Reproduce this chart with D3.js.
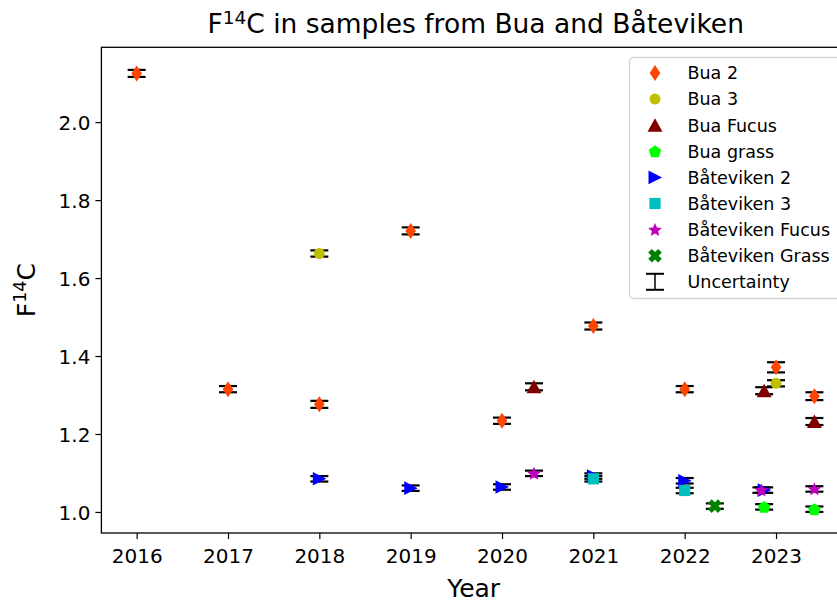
<!DOCTYPE html>
<html>
<head>
<meta charset="utf-8">
<script src="https://cdn.jsdelivr.net/npm/d3@7"></script>
<style>
  html, body { margin: 0; padding: 0; background: #ffffff; }
  svg text { font-family: "DejaVu Sans", sans-serif; }
</style>
</head>
<body>
<svg id="chart" width="837" height="604"></svg>
<script>
// series
const seriesNames = ["Bua 2", "Bua 3", "Bua Fucus", "Bua grass", "Båteviken 2", "Båteviken 3", "Båteviken Fucus", "Båteviken Grass"];

const bua2Years = [2016, 2017, 2018, 2019, 2020, 2021, 2022, 2023, 2023.42];
const bua2Values = [2.125, 1.315, 1.276, 1.721, 1.234, 1.477, 1.315, 1.371, 1.297];
const bua2Errors = [0.009, 0.008, 0.009, 0.009, 0.008, 0.009, 0.008, 0.013, 0.010];

const bua3Years = [2018, 2023];
const bua3Values = [1.663, 1.330];
const bua3Errors = [0.008, 0.008];

const buaFucusYears = [2020.35, 2022.87, 2023.42];
const buaFucusValues = [1.321, 1.311, 1.232];
const buaFucusErrors = [0.009, 0.009, 0.009];

const buaGrassYears = [2022.87, 2023.42];
const buaGrassValues = [1.013, 1.007];
const buaGrassErrors = [0.007, 0.007];

const bat2Years = [2018, 2019, 2020, 2021, 2022, 2022.87];
const bat2Values = [1.085, 1.061, 1.064, 1.092, 1.080, 1.056];
const bat2Errors = [0.007, 0.007, 0.007, 0.007, 0.007, 0.007];

const bat3Years = [2021, 2022];
const bat3Values = [1.085, 1.055];
const bat3Errors = [0.007, 0.007];

const batFucusYears = [2020.35, 2022.84, 2023.42];
const batFucusValues = [1.099, 1.056, 1.059];
const batFucusErrors = [0.007, 0.007, 0.007];

const batGrassYears = [2022.33];
const batGrassValues = [1.015];
const batGrassErrors = [0.007];

const xTicks = [2016, 2017, 2018, 2019, 2020, 2021, 2022, 2023];
const yTicks = [1.0, 1.2, 1.4, 1.6, 1.8, 2.0];

const seriesYears = [bua2Years, bua3Years, buaFucusYears, buaGrassYears, bat2Years, bat3Years, batFucusYears, batGrassYears];
const seriesValues = [bua2Values, bua3Values, buaFucusValues, buaGrassValues, bat2Values, bat3Values, batFucusValues, batGrassValues];
const seriesErrors = [bua2Errors, bua3Errors, buaFucusErrors, buaGrassErrors, bat2Errors, bat3Errors, batFucusErrors, batGrassErrors];
const seriesColors = ["#ff4500", "#bfbf00", "#800000", "#00ff00", "#0000ff", "#00bfbf", "#bf00bf", "#008000"];
const seriesShapes = ["thinDiamond", "circle", "triangleUp", "pentagon", "triangleRight", "square", "star", "xFilled"];

const W = 837, H = 604;
const plot = { left: 101.4, right: 846, top: 47.3, bottom: 533 };

const svg = d3.select("#chart");
svg.append("rect").attr("width", W).attr("height", H).attr("fill", "#ffffff");

const x = d3.scaleLinear().domain([2015.614, 2023.766]).range([plot.left, plot.right]);
const y = d3.scaleLinear().domain([0.946, 2.192]).range([plot.bottom, plot.top]);

function polygon(points) {
  return "M" + points.map(function(p) { return p[0].toFixed(2) + "," + p[1].toFixed(2); }).join("L") + "Z";
}

function markerPath(shape) {
  if (shape === "thinDiamond") return polygon([[0, -8], [5.3, 0], [0, 8], [-5.3, 0]]);
  if (shape === "circle") return d3.symbol(d3.symbolCircle, Math.PI * 5.5 * 5.5)();
  if (shape === "triangleUp") return polygon([[0, -7], [7.5, 6.5], [-7.5, 6.5]]);
  if (shape === "triangleRight") return polygon([[-6.5, -6.8], [7, 0], [-6.5, 6.8]]);
  if (shape === "square") return polygon([[-5.6, -5.6], [5.6, -5.6], [5.6, 5.6], [-5.6, 5.6]]);
  if (shape === "pentagon") {
    const pts = d3.range(5).map(function(i) {
      const a = -Math.PI / 2 + i * 2 * Math.PI / 5;
      return [6.6 * Math.cos(a), 6.6 * Math.sin(a) + 0.6];
    });
    return polygon(pts);
  }
  if (shape === "star") {
    const pts = d3.range(10).map(function(i) {
      const r = i % 2 === 0 ? 7.2 : 3.3;
      const a = -Math.PI / 2 + i * Math.PI / 5;
      return [r * Math.cos(a), r * Math.sin(a) + 0.6];
    });
    return polygon(pts);
  }
  if (shape === "xFilled") {
    const a = 7, w = 2.6;
    const base = [[-w, -a], [w, -a], [w, -w], [a, -w], [a, w], [w, w], [w, a], [-w, a], [-w, w], [-a, w], [-a, -w], [-w, -w]];
    const c = Math.SQRT1_2;
    return polygon(base.map(function(p) { return [c * (p[0] - p[1]), c * (p[0] + p[1])]; }));
  }
  return "";
}

// axes
const xAxis = svg.append("g")
  .attr("transform", "translate(0," + plot.bottom + ")")
  .call(d3.axisBottom(x).tickValues(xTicks).tickFormat(d3.format("d")).tickSize(6).tickSizeOuter(0));
const yAxis = svg.append("g")
  .attr("transform", "translate(" + plot.left + ",0)")
  .call(d3.axisLeft(y).tickValues(yTicks).tickFormat(d3.format(".1f")).tickSize(6).tickSizeOuter(0));

[xAxis, yAxis].forEach(function(g) {
  g.select(".domain").remove();
  g.selectAll(".tick line").attr("stroke", "#000").attr("stroke-width", 1.2);
  g.selectAll(".tick text").attr("fill", "#000").attr("font-size", 20).attr("font-family", "DejaVu Sans");
});
xAxis.selectAll(".tick text").attr("dy", "1.05em");
yAxis.selectAll(".tick text").attr("x", -11).attr("dy", "0.36em");

// error caps (all under the markers, the stems stay hidden)
const capHalf = 9;
const caps = svg.append("g").attr("stroke", "#000").attr("stroke-width", 2.2);
seriesNames.forEach(function(name, si) {
  seriesYears[si].forEach(function(yr, i) {
    const v = seriesValues[si][i], e = seriesErrors[si][i];
    [v - e, v + e].forEach(function(cv) {
      caps.append("line")
        .attr("x1", x(yr) - capHalf).attr("x2", x(yr) + capHalf)
        .attr("y1", y(cv)).attr("y2", y(cv));
    });
  });
});

// markers
seriesNames.forEach(function(name, si) {
  const pts = seriesYears[si].map(function(yr, i) { return { yr: yr, v: seriesValues[si][i] }; });
  svg.append("g").selectAll("path").data(pts).join("path")
    .attr("transform", function(d) { return "translate(" + x(d.yr) + "," + y(d.v) + ")"; })
    .attr("d", markerPath(seriesShapes[si]))
    .attr("fill", seriesColors[si]);
});

// frame
svg.append("rect")
  .attr("x", plot.left).attr("y", plot.top)
  .attr("width", plot.right - plot.left).attr("height", plot.bottom - plot.top)
  .attr("fill", "none").attr("stroke", "#000").attr("stroke-width", 1.3);

// legend
const legendX = 629.5, legendY = 57.5, legendStep = 26.1;
const legend = svg.append("g");
legend.append("rect")
  .attr("x", legendX).attr("y", legendY)
  .attr("width", 240).attr("height", 241)
  .attr("rx", 4)
  .attr("fill", "#ffffff").attr("fill-opacity", 0.8)
  .attr("stroke", "#d6d6d6").attr("stroke-width", 1.3);

const legendNames = seriesNames.concat(["Uncertainty"]);
legendNames.forEach(function(name, i) {
  const cy = legendY + 15.5 + i * legendStep;
  if (i < seriesNames.length) {
    legend.append("path")
      .attr("transform", "translate(655," + cy + ")")
      .attr("d", markerPath(seriesShapes[i]))
      .attr("fill", seriesColors[i]);
  } else {
    const g = legend.append("g").attr("stroke", "#000").attr("stroke-width", 2);
    g.append("line").attr("x1", 655).attr("x2", 655).attr("y1", cy - 8).attr("y2", cy + 8).attr("stroke-width", 1.5);
    g.append("line").attr("x1", 646).attr("x2", 664).attr("y1", cy - 8).attr("y2", cy - 8);
    g.append("line").attr("x1", 646).attr("x2", 664).attr("y1", cy + 8).attr("y2", cy + 8);
  }
  legend.append("text")
    .attr("x", 687.5).attr("y", cy).attr("dy", "0.36em")
    .attr("font-size", 17.5).attr("fill", "#000")
    .text(name);
});

// title and axis labels
const cx = (plot.left + plot.right) / 2;
const title = svg.append("text")
  .attr("x", cx + 2).attr("y", 33).attr("text-anchor", "middle")
  .attr("font-size", 26.5).attr("fill", "#000");
title.append("tspan").text("F");
title.append("tspan").attr("font-size", 18.5).attr("dy", -9.5).text("14");
title.append("tspan").attr("dy", 9.5).text("C in samples from Bua and Båteviken");

svg.append("text")
  .attr("x", cx).attr("y", 597).attr("text-anchor", "middle")
  .attr("font-size", 25).attr("fill", "#000")
  .text("Year");

const ylab = svg.append("text")
  .attr("transform", "translate(35," + ((plot.top + plot.bottom) / 2) + ") rotate(-90)")
  .attr("text-anchor", "middle")
  .attr("font-size", 25).attr("fill", "#000");
ylab.append("tspan").text("F");
ylab.append("tspan").attr("font-size", 17.5).attr("dy", -9).text("14");
ylab.append("tspan").attr("dy", 9).text("C");
</script>
</body>
</html>
